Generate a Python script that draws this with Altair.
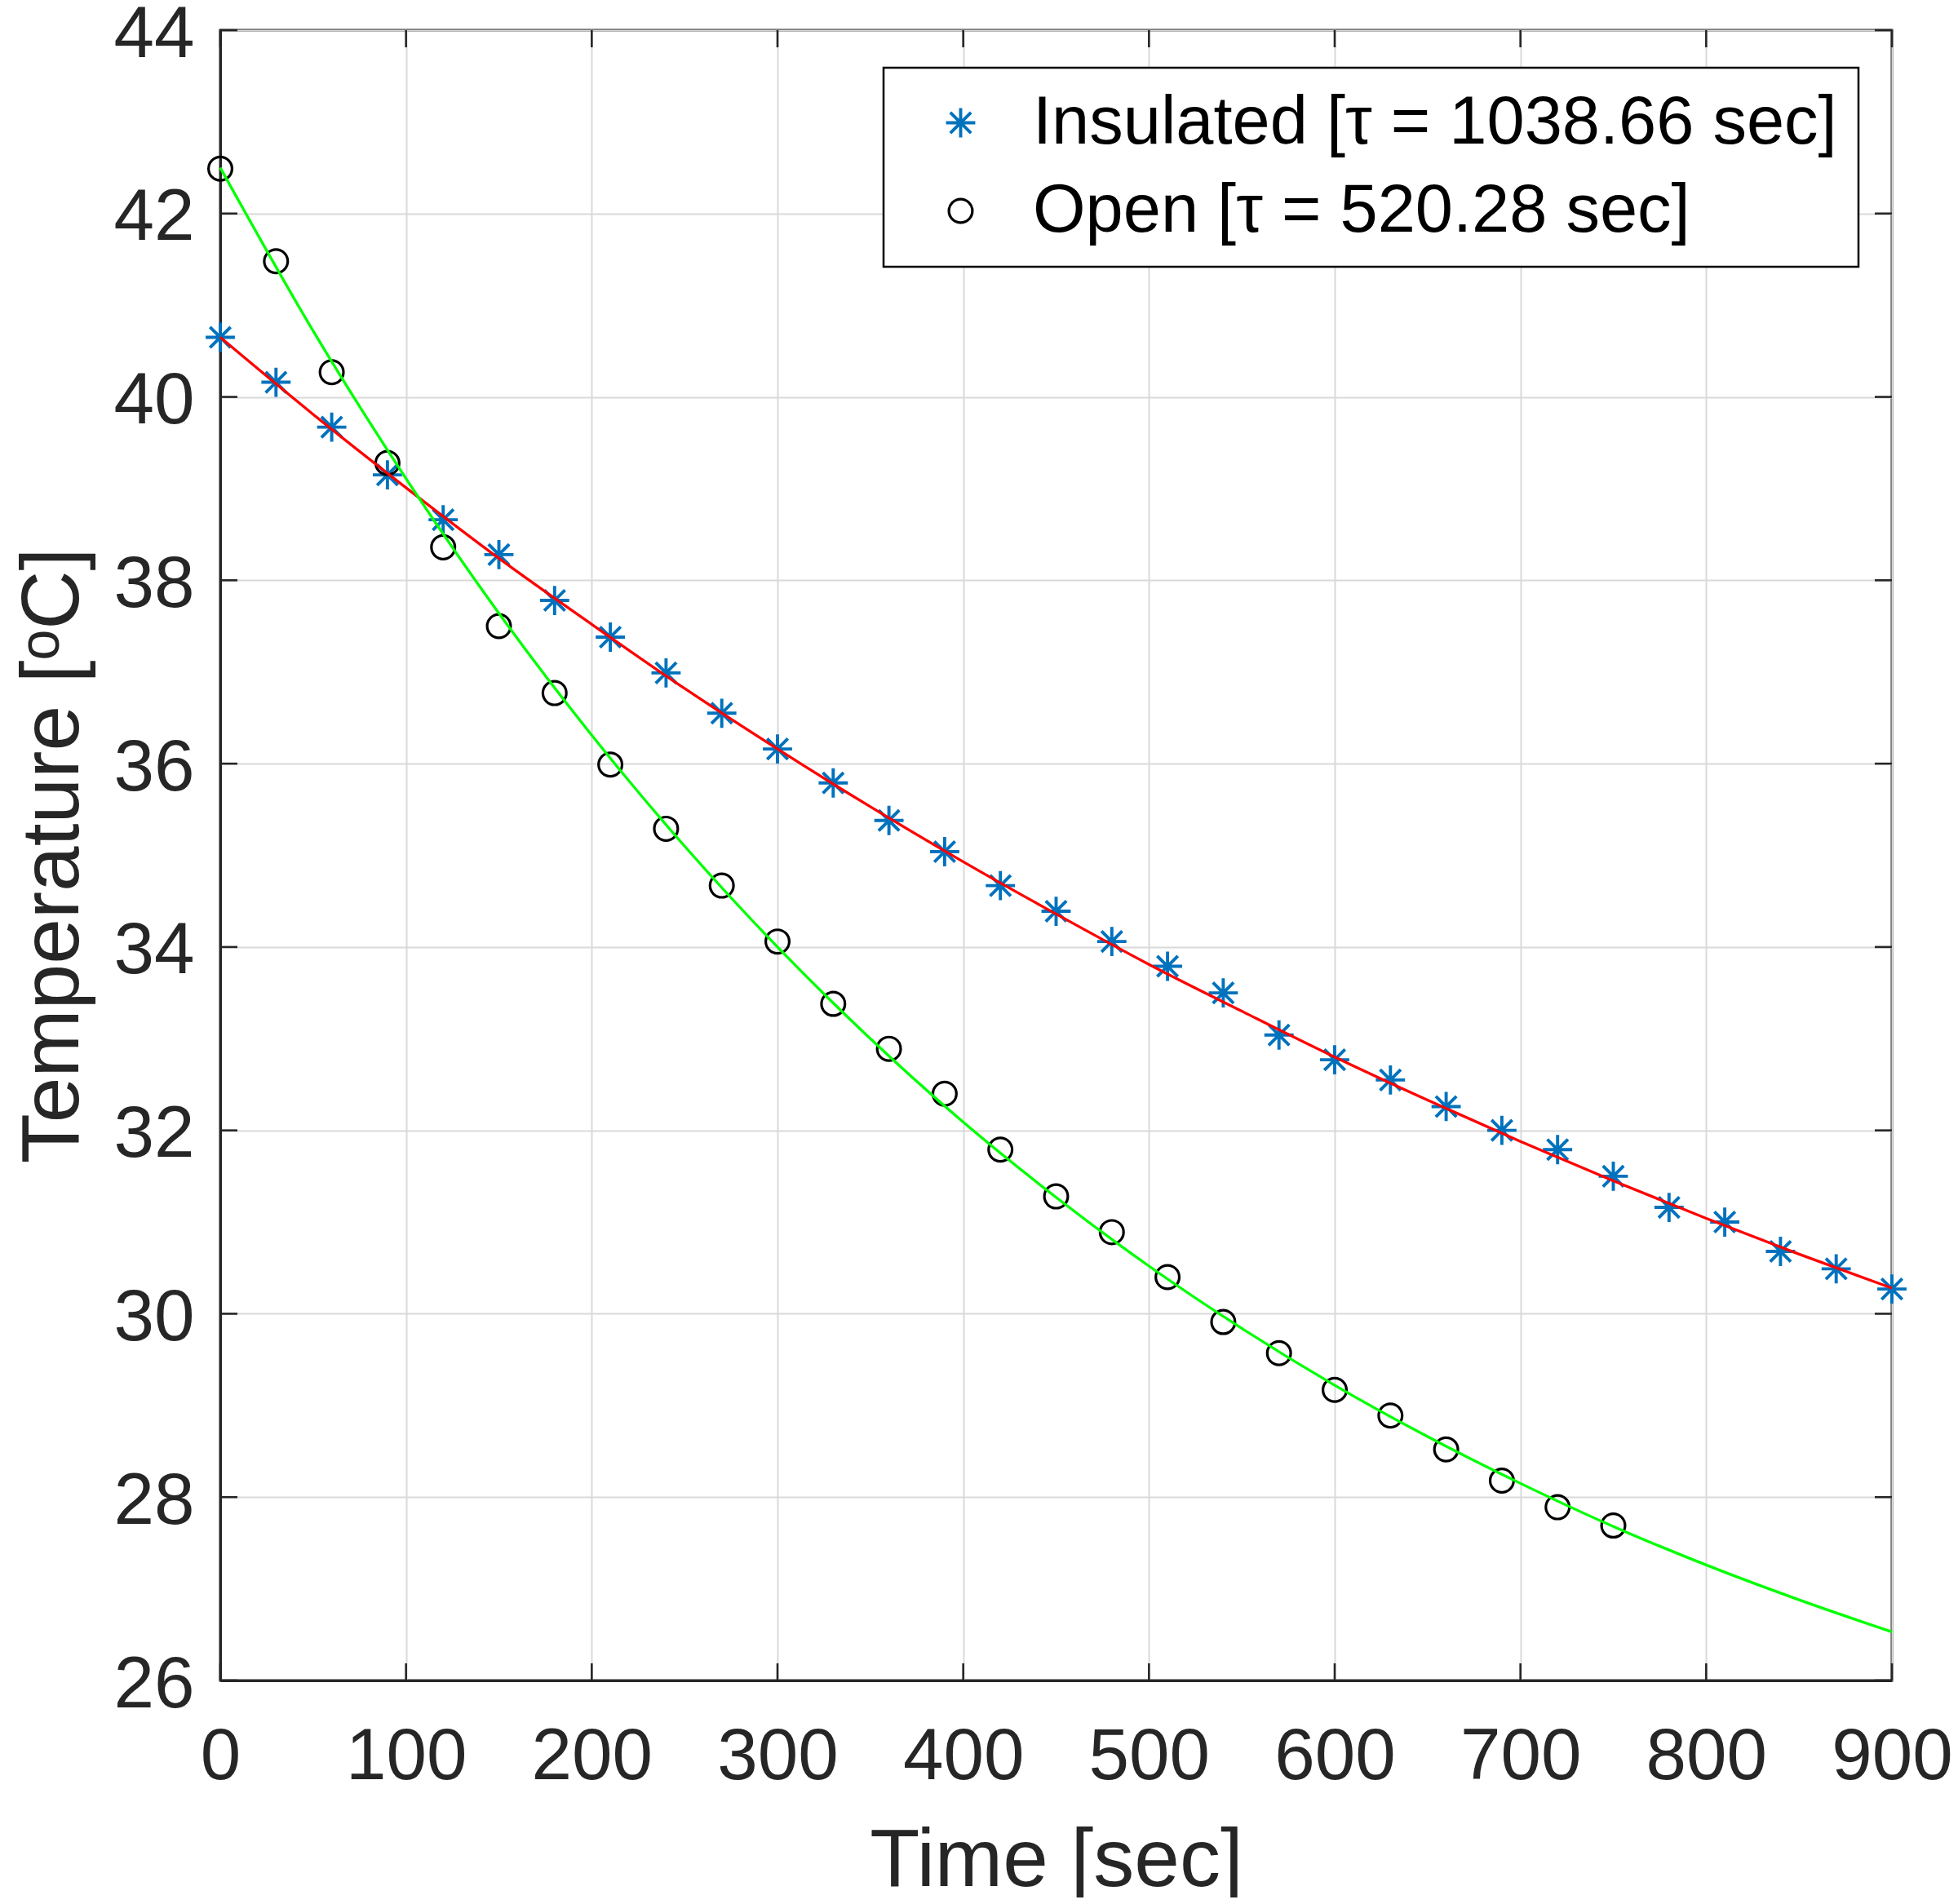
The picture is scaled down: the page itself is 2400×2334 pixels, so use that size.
import altair as alt
import pandas as pd

# ---- data ----
t_ins = [0, 30, 60, 90, 120, 150, 180, 210, 240, 270, 300, 330, 360, 390, 420, 450,
         480, 510, 540, 570, 600, 630, 660, 690, 720, 750, 780, 810, 840, 870, 900]
T_ins = [40.65, 40.16, 39.67, 39.15, 38.66, 38.28, 37.78, 37.38, 36.99, 36.55, 36.16,
         35.79, 35.38, 35.04, 34.67, 34.39, 34.06, 33.79, 33.50, 33.04, 32.77, 32.55,
         32.26, 32.00, 31.79, 31.50, 31.16, 31.00, 30.68, 30.49, 30.27]

t_open = [0, 30, 60, 90, 120, 150, 180, 210, 240, 270, 300, 330, 360, 390, 420, 450,
          480, 510, 540, 570, 600, 630, 660, 690, 720, 750]
T_open = [42.49, 41.48, 40.27, 39.28, 38.36, 37.50, 36.77, 35.99, 35.29, 34.67, 34.06,
          33.38, 32.89, 32.40, 31.79, 31.28, 30.89, 30.40, 29.91, 29.57, 29.17, 28.89,
          28.52, 28.18, 27.89, 27.69]

# fitted curves
t_fit = [0, 50, 100, 150, 200, 250, 300, 350, 400, 450, 500, 550, 600, 650, 700, 750,
         800, 850, 900]
T_fit_ins = [40.65, 39.81, 39.01, 38.24, 37.52, 36.82, 36.16, 35.53, 34.93, 34.36, 33.81,
             33.30, 32.80, 32.33, 31.88, 31.45, 31.04, 30.65, 30.28]
T_fit_open = [42.50, 40.72, 39.11, 37.64, 36.31, 35.10, 34.00, 33.00, 32.09, 31.27, 30.52,
              29.84, 29.22, 28.66, 28.15, 27.68, 27.26, 26.88, 26.53]

series_names = ["Insulated [τ = 1038.66 sec]", "Open [τ = 520.28 sec]"]
series_colors = ["#0072BD", "#000000"]

x_ticks = [0, 100, 200, 300, 400, 500, 600, 700, 800, 900]
y_ticks = [26, 28, 30, 32, 34, 36, 38, 40, 42, 44]

W, H = 2049, 2023
FONT = "Liberation Sans"
ASTER = "M-1.3,0L1.3,0M0,-1.3L0,1.3M-0.92,-0.92L0.92,0.92M-0.92,0.92L0.92,-0.92"

pts = pd.DataFrame({
    "t": t_ins + t_open,
    "T": T_ins + T_open,
    "series": [series_names[0]] * len(t_ins) + [series_names[1]] * len(t_open),
})
fit_ins = pd.DataFrame({"t": t_fit, "T": T_fit_ins})
fit_open = pd.DataFrame({"t": t_fit, "T": T_fit_open})
xt = pd.DataFrame({"t": x_ticks})
yt = pd.DataFrame({"T": y_ticks})

xs = alt.Scale(domain=[0, 900], nice=False, zero=False)
ys = alt.Scale(domain=[26, 44], nice=False, zero=False)

x_axis = alt.Axis(values=x_ticks, format="d", title="Time [sec]", titleFontSize=100,
                  labelFontSize=89, ticks=False, labelPadding=50, titlePadding=34,
                  labelFlush=False, labelOverlap=False)
y_axis = alt.Axis(values=y_ticks, format="d", title="Temperature [ᵒC]", titleFontSize=100,
                  labelFontSize=89, ticks=False, labelPadding=32, titlePadding=23,
                  labelOverlap=False, labelBaseline="middle", labelOffset=5)

points = alt.Chart(pts).mark_point(filled=False, opacity=1).encode(
    x=alt.X("t:Q", scale=xs, axis=x_axis),
    y=alt.Y("T:Q", scale=ys, axis=y_axis),
    shape=alt.Shape("series:N", scale=alt.Scale(domain=series_names, range=[ASTER, "circle"]),
                    legend=alt.Legend(title=None, orient="none", legendX=813, legendY=46,
                                      direction="vertical", labelFontSize=83, labelFont=FONT,
                                      labelColor="#000000", symbolSize=780,
                                      symbolStrokeWidth=3.2, padding=26, rowPadding=24,
                                      symbolOffset=27, labelOffset=47, strokeColor="#000000",
                                      fillColor="white", labelLimit=3000, cornerRadius=0)),
    color=alt.Color("series:N", scale=alt.Scale(domain=series_names, range=series_colors),
                    legend=alt.Legend(title=None, orient="none", legendX=813, legendY=46)),
    size=alt.Size("series:N", scale=alt.Scale(domain=series_names, range=[760, 830]),
                  legend=None),
    strokeWidth=alt.StrokeWidth("series:N", scale=alt.Scale(domain=series_names, range=[3.9, 3.2]),
                                legend=None),
)

line_ins = alt.Chart(fit_ins).mark_line(color="#FF0000", strokeWidth=3.3, interpolate="monotone").encode(
    x=alt.X("t:Q", scale=xs), y=alt.Y("T:Q", scale=ys))
line_open = alt.Chart(fit_open).mark_line(color="#00FF00", strokeWidth=3.3, interpolate="monotone").encode(
    x=alt.X("t:Q", scale=xs), y=alt.Y("T:Q", scale=ys))

TL = 21
tick_style = dict(color="#262626", strokeWidth=2.6)
top_ticks = alt.Chart(xt).mark_rule(**tick_style).encode(
    x=alt.X("t:Q", scale=xs), y=alt.value(0), y2=alt.value(TL))
bot_ticks = alt.Chart(xt).mark_rule(**tick_style).encode(
    x=alt.X("t:Q", scale=xs), y=alt.value(H), y2=alt.value(H - TL))
left_ticks = alt.Chart(yt).mark_rule(**tick_style).encode(
    y=alt.Y("T:Q", scale=ys), x=alt.value(0), x2=alt.value(TL))
right_ticks = alt.Chart(yt).mark_rule(**tick_style).encode(
    y=alt.Y("T:Q", scale=ys), x=alt.value(W), x2=alt.value(W - TL))

chart = alt.layer(
    points, line_ins, line_open, top_ticks, bot_ticks, left_ticks, right_ticks
).properties(
    width=W, height=H,
    autosize=alt.AutoSizeParams(type="none"),
    padding={"left": 262, "top": 29, "right": 73, "bottom": 266},
    background="white",
).configure_view(
    stroke="#262626", strokeWidth=3
).configure_axis(
    labelFont=FONT, titleFont=FONT, labelColor="#262626", titleColor="#262626",
    titleFontWeight="normal", gridColor="#d9d9d9", gridWidth=2, gridOpacity=1,
    domainColor="#262626", domainWidth=3,
).configure_legend(
    strokeWidth=2.5
)

chart.save("out.html", embed_options={"renderer": "svg", "actions": False})
